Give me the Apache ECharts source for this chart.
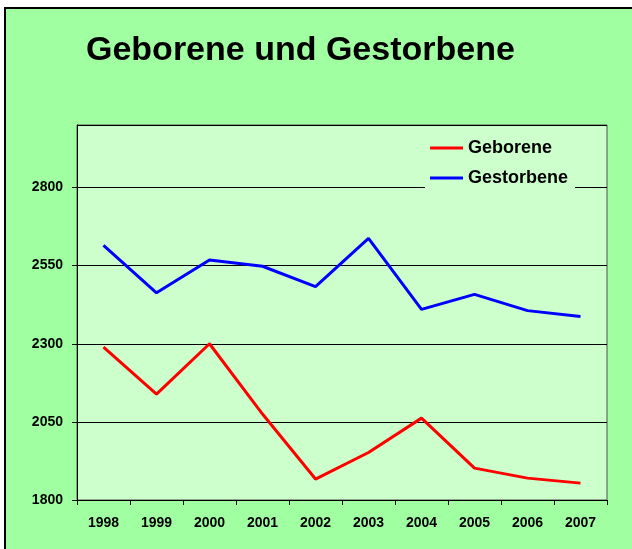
<!DOCTYPE html>
<html>
<head>
<meta charset="utf-8">
<script src="https://cdn.jsdelivr.net/npm/echarts@6/dist/echarts.min.js"></script>
<style>
html,body{margin:0;padding:0;background:#fff;}
#c{width:632px;height:549px;}
</style>
</head>
<body>
<div id="c"></div>
<script>
const years = ['1998','1999','2000','2001','2002','2003','2004','2005','2006','2007'];
const geborene = [2289, 2139, 2300, 2075, 1867, 1952, 2062, 1902, 1870, 1854];
const gestorbene = [2615, 2463, 2568, 2548, 2483, 2637, 2410, 2458, 2406, 2387];
const yMin = 1800, yMax = 3000, yStep = 250;

const font = 'Liberation Sans, Arial, sans-serif';
const chart = echarts.init(document.getElementById('c'));
chart.setOption({
  backgroundColor: '#ffffff',
  animation: false,
  graphic: [{
    type: 'rect', z: -10,
    shape: {x: 5, y: 8, width: 700, height: 600},
    style: {fill: '#A0FFA0', stroke: '#000', lineWidth: 2}
  }],
  title: {
    text: 'Geborene und Gestorbene',
    left: 86, top: 34, padding: 0,
    textStyle: {fontFamily: font, fontSize: 34, fontWeight: 'bold', color: '#000'}
  },
  legend: {
    orient: 'vertical',
    left: 425, top: 128,
    padding: [11, 7, 7, 5],
    itemGap: 12,
    itemWidth: 33, itemHeight: 3,
    icon: 'rect',
    backgroundColor: '#CCFFCC',
    textStyle: {fontFamily: font, fontSize: 18, fontWeight: 'bold', color: '#000'},
    data: ['Geborene', 'Gestorbene']
  },
  grid: {
    left: 77, right: 25, top: 125, bottom: 49,
    show: true, backgroundColor: '#CCFFCC', borderColor: '#505050', borderWidth: 1
  },
  xAxis: {
    type: 'category', data: years, boundaryGap: true,
    axisLine: {lineStyle: {color: '#000', width: 1}},
    axisTick: {show: true, length: 5, lineStyle: {color: '#000'}},
    axisLabel: {fontFamily: font, fontSize: 14, fontWeight: 'bold', color: '#000', margin: 16}
  },
  yAxis: {
    type: 'value', min: yMin, max: yMax, interval: yStep,
    axisLine: {show: true, lineStyle: {color: '#000', width: 1}},
    axisTick: {show: true, length: 5, lineStyle: {color: '#000'}},
    axisLabel: {fontFamily: font, fontSize: 14, fontWeight: 'bold', color: '#000', margin: 14,
                showMaxLabel: false, formatter: v => String(v)},
    splitLine: {show: true, lineStyle: {color: '#000', width: 1}}
  },
  series: [
    {name: 'Geborene', type: 'line', data: geborene, symbol: 'none', color: '#FF0000',
     lineStyle: {color: '#FF0000', width: 3}},
    {name: 'Gestorbene', type: 'line', data: gestorbene, symbol: 'none', color: '#0000FF',
     lineStyle: {color: '#0000FF', width: 3}}
  ]
});
</script>
</body>
</html>
